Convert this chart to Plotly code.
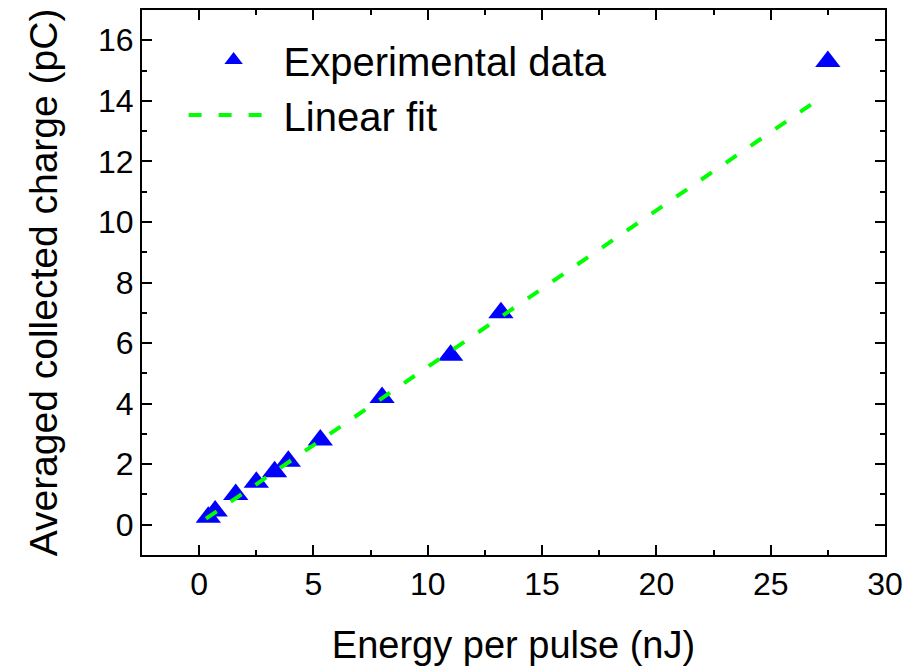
import plotly.graph_objects as go

# Data
energy_nJ = [0.4, 0.7, 1.6, 2.5, 3.3, 3.9, 5.3, 8.0, 11.0, 13.2, 27.5]
charge_pC = [0.25, 0.45, 1.0, 1.4, 1.75, 2.1, 2.8, 4.2, 5.6, 7.0, 15.3]

fit_x = [0.3, 27.0]
fit_y = [0.2, 14.0]

x_ticks = [0, 5, 10, 15, 20, 25, 30]
y_ticks = [0, 2, 4, 6, 8, 10, 12, 14, 16]

FONT = "Liberation Sans, Arial, sans-serif"

fig = go.Figure()
fig.add_trace(go.Scatter(
    x=energy_nJ, y=charge_pC, mode="markers", name="Experimental data",
    marker=dict(symbol="triangle-up", size=22, color="#0000ff", line=dict(width=0)),
))
fig.add_trace(go.Scatter(
    x=fit_x, y=fit_y, mode="lines", name="Linear fit",
    line=dict(color="#00ff00", width=4, dash="13px,17px"),
))

axis_common = dict(
    showline=True, linecolor="black", linewidth=2, mirror="ticks",
    ticks="inside", ticklen=10, tickwidth=2, tickcolor="black",
    showgrid=False, zeroline=False,
    tickfont=dict(family=FONT, size=32, color="black"),
)

fig.update_xaxes(
    range=[-2.5, 30], tickvals=x_ticks,
    title=dict(text="Energy per pulse (nJ)", font=dict(family=FONT, size=38, color="black"), standoff=30),
    minor=dict(ticks="inside", ticklen=5, tickwidth=2, tickcolor="black", dtick=2.5, tick0=0),
    **axis_common,
)
fig.update_yaxes(
    range=[-1, 17], tickvals=y_ticks,
    title=dict(text="Averaged collected charge (pC)", font=dict(family=FONT, size=39, color="black"), standoff=28),
    minor=dict(ticks="inside", ticklen=5, tickwidth=2, tickcolor="black", dtick=1, tick0=0),
    **axis_common,
)

fig.update_layout(
    width=911, height=667,
    margin=dict(l=142, r=25, t=8, b=112),
    plot_bgcolor="white", paper_bgcolor="white",
    font=dict(family=FONT, color="black"),
    legend=dict(
        x=0.056, y=0.968, xanchor="left", yanchor="top",
        bgcolor="rgba(0,0,0,0)", borderwidth=0,
        font=dict(family=FONT, size=40, color="black"),
        itemwidth=90,
    ),
)

fig.write_html("out.html")
